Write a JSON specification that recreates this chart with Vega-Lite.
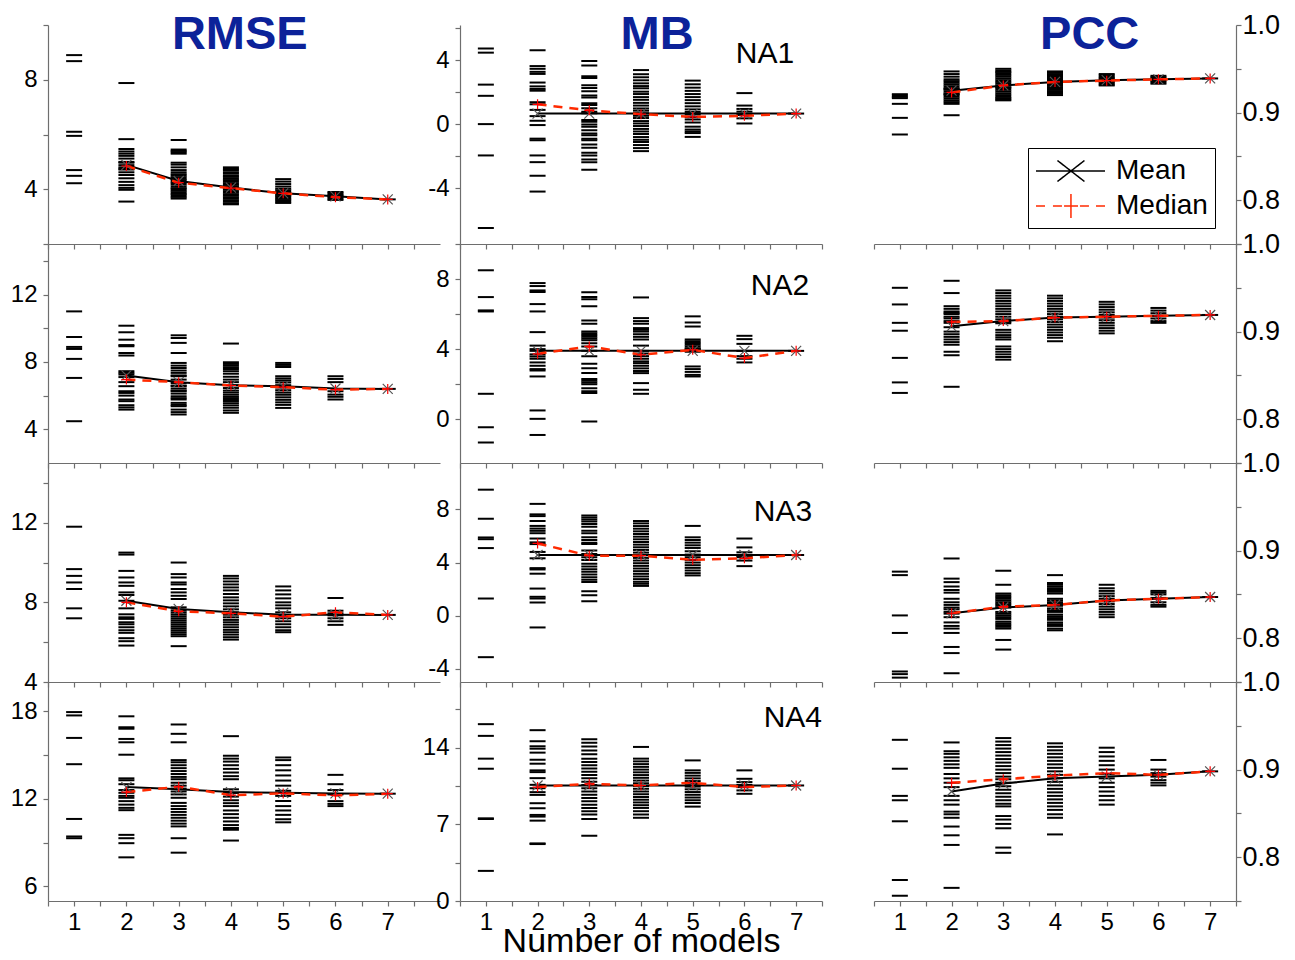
{
"$schema":"https://vega.github.io/schema/vega-lite/v6.json",
"background":"white",
"padding":{"left":10,"top":10,"right":5,"bottom":5},
"config":{"view":{"stroke":null},"font":"Liberation Sans","tick":{"opacity":1},
"axis":{"domainColor":"#6e6e6e","tickColor":"#6e6e6e","domainWidth":1.2,"tickWidth":1.2,"tickSize":5,"labelFontSize":24,"labelFont":"Liberation Sans","labelColor":"black","grid":false,"labelFlush":false,"labelOverlap":false,"labelBound":false,"titleFont":"Liberation Sans","titleColor":"black"}},
"datasets":{
"t":[
{"p":"R1","x":1,"v":8.9},{"p":"R1","x":1,"v":8.68},{"p":"R1","x":1,"v":6.1},{"p":"R1","x":1,"v":5.95},{"p":"R1","x":1,"v":4.7},{"p":"R1","x":1,"v":4.49},{"p":"R1","x":1,"v":4.22},
{"p":"R1","x":2,"v":7.88},{"p":"R1","x":2,"v":5.83},{"p":"R1","x":2,"v":5.47},{"p":"R1","x":2,"v":5.38},{"p":"R1","x":2,"v":5.3},{"p":"R1","x":2,"v":5.22},{"p":"R1","x":2,"v":5.12},{"p":"R1","x":2,"v":5.0},{"p":"R1","x":2,"v":4.97},{"p":"R1","x":2,"v":4.88},{"p":"R1","x":2,"v":4.8},{"p":"R1","x":2,"v":4.75},{"p":"R1","x":2,"v":4.72},{"p":"R1","x":2,"v":4.62},{"p":"R1","x":2,"v":4.52},{"p":"R1","x":2,"v":4.4},{"p":"R1","x":2,"v":4.27},{"p":"R1","x":2,"v":4.15},{"p":"R1","x":2,"v":4.05},{"p":"R1","x":2,"v":3.98},{"p":"R1","x":2,"v":3.55},
{"p":"R1","x":3,"v":5.8},{"p":"R1","x":3,"v":5.45},{"p":"R1","x":3,"v":5.4},{"p":"R1","x":3,"v":5.35},{"p":"R1","x":3,"v":5.3},{"p":"R1","x":3,"v":4.97},{"p":"R1","x":3,"v":4.9},{"p":"R1","x":3,"v":4.8},{"p":"R1","x":3,"v":4.7},{"p":"R1","x":3,"v":4.62},{"p":"R1","x":3,"v":4.55},{"p":"R1","x":3,"v":4.5},{"p":"R1","x":3,"v":4.44},{"p":"R1","x":3,"v":4.38},{"p":"R1","x":3,"v":4.33},{"p":"R1","x":3,"v":4.27},{"p":"R1","x":3,"v":4.22},{"p":"R1","x":3,"v":4.17},{"p":"R1","x":3,"v":4.1},{"p":"R1","x":3,"v":4.04},{"p":"R1","x":3,"v":4.0},{"p":"R1","x":3,"v":3.94},{"p":"R1","x":3,"v":3.88},{"p":"R1","x":3,"v":3.83},{"p":"R1","x":3,"v":3.78},{"p":"R1","x":3,"v":3.72},{"p":"R1","x":3,"v":3.66},
{"p":"R1","x":4,"v":4.8},{"p":"R1","x":4,"v":4.74},{"p":"R1","x":4,"v":4.69},{"p":"R1","x":4,"v":4.62},{"p":"R1","x":4,"v":4.57},{"p":"R1","x":4,"v":4.5},{"p":"R1","x":4,"v":4.45},{"p":"R1","x":4,"v":4.38},{"p":"R1","x":4,"v":4.33},{"p":"R1","x":4,"v":4.27},{"p":"R1","x":4,"v":4.21},{"p":"R1","x":4,"v":4.16},{"p":"R1","x":4,"v":4.1},{"p":"R1","x":4,"v":4.05},{"p":"R1","x":4,"v":3.99},{"p":"R1","x":4,"v":3.93},{"p":"R1","x":4,"v":3.88},{"p":"R1","x":4,"v":3.82},{"p":"R1","x":4,"v":3.77},{"p":"R1","x":4,"v":3.71},{"p":"R1","x":4,"v":3.66},{"p":"R1","x":4,"v":3.6},{"p":"R1","x":4,"v":3.55},{"p":"R1","x":4,"v":3.49},{"p":"R1","x":4,"v":3.45},
{"p":"R1","x":5,"v":4.37},{"p":"R1","x":5,"v":4.28},{"p":"R1","x":5,"v":4.19},{"p":"R1","x":5,"v":4.1},{"p":"R1","x":5,"v":4.02},{"p":"R1","x":5,"v":3.96},{"p":"R1","x":5,"v":3.9},{"p":"R1","x":5,"v":3.85},{"p":"R1","x":5,"v":3.8},{"p":"R1","x":5,"v":3.75},{"p":"R1","x":5,"v":3.7},{"p":"R1","x":5,"v":3.65},{"p":"R1","x":5,"v":3.6},{"p":"R1","x":5,"v":3.55},{"p":"R1","x":5,"v":3.5},
{"p":"R1","x":6,"v":3.9},{"p":"R1","x":6,"v":3.85},{"p":"R1","x":6,"v":3.8},{"p":"R1","x":6,"v":3.76},{"p":"R1","x":6,"v":3.71},{"p":"R1","x":6,"v":3.66},{"p":"R1","x":6,"v":3.61},
{"p":"R1","x":7,"v":3.63},

{"p":"M1","x":1,"v":4.73},{"p":"M1","x":1,"v":4.47},{"p":"M1","x":1,"v":2.47},{"p":"M1","x":1,"v":1.77},{"p":"M1","x":1,"v":0.0},{"p":"M1","x":1,"v":-1.96},{"p":"M1","x":1,"v":-6.5},
{"p":"M1","x":2,"v":4.62},{"p":"M1","x":2,"v":3.63},{"p":"M1","x":2,"v":3.46},{"p":"M1","x":2,"v":3.27},{"p":"M1","x":2,"v":3.14},{"p":"M1","x":2,"v":2.6},{"p":"M1","x":2,"v":2.36},{"p":"M1","x":2,"v":2.2},{"p":"M1","x":2,"v":2.09},{"p":"M1","x":2,"v":1.37},{"p":"M1","x":2,"v":1.24},{"p":"M1","x":2,"v":0.89},{"p":"M1","x":2,"v":0.5},{"p":"M1","x":2,"v":0.21},{"p":"M1","x":2,"v":-0.06},{"p":"M1","x":2,"v":-0.91},{"p":"M1","x":2,"v":-1.01},{"p":"M1","x":2,"v":-1.96},{"p":"M1","x":2,"v":-2.38},{"p":"M1","x":2,"v":-3.23},{"p":"M1","x":2,"v":-4.22},
{"p":"M1","x":3,"v":3.95},{"p":"M1","x":3,"v":3.67},{"p":"M1","x":3,"v":3.0},{"p":"M1","x":3,"v":2.89},{"p":"M1","x":3,"v":2.43},{"p":"M1","x":3,"v":2.26},{"p":"M1","x":3,"v":2.05},{"p":"M1","x":3,"v":1.79},{"p":"M1","x":3,"v":1.67},{"p":"M1","x":3,"v":1.31},{"p":"M1","x":3,"v":1.2},{"p":"M1","x":3,"v":0.99},{"p":"M1","x":3,"v":0.78},{"p":"M1","x":3,"v":0.68},{"p":"M1","x":3,"v":0.25},{"p":"M1","x":3,"v":0.15},{"p":"M1","x":3,"v":-0.02},{"p":"M1","x":3,"v":-0.17},{"p":"M1","x":3,"v":-0.38},{"p":"M1","x":3,"v":-0.59},{"p":"M1","x":3,"v":-0.7},{"p":"M1","x":3,"v":-0.91},{"p":"M1","x":3,"v":-1.01},{"p":"M1","x":3,"v":-1.27},{"p":"M1","x":3,"v":-1.48},{"p":"M1","x":3,"v":-1.79},{"p":"M1","x":3,"v":-1.96},{"p":"M1","x":3,"v":-2.22},{"p":"M1","x":3,"v":-2.38},{"p":"M1","x":3,"v":-2.85},
{"p":"M1","x":4,"v":3.38},{"p":"M1","x":4,"v":3.12},{"p":"M1","x":4,"v":2.93},{"p":"M1","x":4,"v":2.74},{"p":"M1","x":4,"v":2.55},{"p":"M1","x":4,"v":2.38},{"p":"M1","x":4,"v":2.24},{"p":"M1","x":4,"v":2.03},{"p":"M1","x":4,"v":1.88},{"p":"M1","x":4,"v":1.69},{"p":"M1","x":4,"v":1.52},{"p":"M1","x":4,"v":1.33},{"p":"M1","x":4,"v":1.16},{"p":"M1","x":4,"v":0.98},{"p":"M1","x":4,"v":0.84},{"p":"M1","x":4,"v":0.68},{"p":"M1","x":4,"v":0.52},{"p":"M1","x":4,"v":0.38},{"p":"M1","x":4,"v":0.19},{"p":"M1","x":4,"v":0.04},{"p":"M1","x":4,"v":-0.12},{"p":"M1","x":4,"v":-0.3},{"p":"M1","x":4,"v":-0.46},{"p":"M1","x":4,"v":-0.62},{"p":"M1","x":4,"v":-0.81},{"p":"M1","x":4,"v":-0.98},{"p":"M1","x":4,"v":-1.12},{"p":"M1","x":4,"v":-1.31},{"p":"M1","x":4,"v":-1.5},{"p":"M1","x":4,"v":-1.69},
{"p":"M1","x":5,"v":2.72},{"p":"M1","x":5,"v":2.49},{"p":"M1","x":5,"v":2.28},{"p":"M1","x":5,"v":2.08},{"p":"M1","x":5,"v":1.88},{"p":"M1","x":5,"v":1.69},{"p":"M1","x":5,"v":1.5},{"p":"M1","x":5,"v":1.31},{"p":"M1","x":5,"v":1.11},{"p":"M1","x":5,"v":0.92},{"p":"M1","x":5,"v":0.76},{"p":"M1","x":5,"v":0.6},{"p":"M1","x":5,"v":0.44},{"p":"M1","x":5,"v":0.29},{"p":"M1","x":5,"v":0.1},{"p":"M1","x":5,"v":-0.16},{"p":"M1","x":5,"v":-0.34},{"p":"M1","x":5,"v":-0.46},{"p":"M1","x":5,"v":-0.56},{"p":"M1","x":5,"v":-0.8},
{"p":"M1","x":6,"v":1.94},{"p":"M1","x":6,"v":1.16},{"p":"M1","x":6,"v":0.95},{"p":"M1","x":6,"v":0.78},{"p":"M1","x":6,"v":0.57},{"p":"M1","x":6,"v":0.36},{"p":"M1","x":6,"v":0.04},
{"p":"M1","x":7,"v":0.66},

{"p":"P1","x":1,"v":0.921},{"p":"P1","x":1,"v":0.9195},{"p":"P1","x":1,"v":0.918},{"p":"P1","x":1,"v":0.9165},{"p":"P1","x":1,"v":0.91},{"p":"P1","x":1,"v":0.894},{"p":"P1","x":1,"v":0.875},
{"p":"P1","x":2,"v":0.947},{"p":"P1","x":2,"v":0.944},{"p":"P1","x":2,"v":0.941},{"p":"P1","x":2,"v":0.938},{"p":"P1","x":2,"v":0.936},{"p":"P1","x":2,"v":0.934},{"p":"P1","x":2,"v":0.932},{"p":"P1","x":2,"v":0.93},{"p":"P1","x":2,"v":0.928},{"p":"P1","x":2,"v":0.927},{"p":"P1","x":2,"v":0.926},{"p":"P1","x":2,"v":0.924},{"p":"P1","x":2,"v":0.922},{"p":"P1","x":2,"v":0.921},{"p":"P1","x":2,"v":0.92},{"p":"P1","x":2,"v":0.918},{"p":"P1","x":2,"v":0.916},{"p":"P1","x":2,"v":0.914},{"p":"P1","x":2,"v":0.912},{"p":"P1","x":2,"v":0.91},{"p":"P1","x":2,"v":0.897},
{"p":"P1","x":3,"v":0.95},{"p":"P1","x":3,"v":0.948},{"p":"P1","x":3,"v":0.9465},{"p":"P1","x":3,"v":0.945},{"p":"P1","x":3,"v":0.943},{"p":"P1","x":3,"v":0.941},{"p":"P1","x":3,"v":0.939},{"p":"P1","x":3,"v":0.937},{"p":"P1","x":3,"v":0.935},{"p":"P1","x":3,"v":0.933},{"p":"P1","x":3,"v":0.931},{"p":"P1","x":3,"v":0.929},{"p":"P1","x":3,"v":0.928},{"p":"P1","x":3,"v":0.926},{"p":"P1","x":3,"v":0.924},{"p":"P1","x":3,"v":0.922},{"p":"P1","x":3,"v":0.92},{"p":"P1","x":3,"v":0.918},{"p":"P1","x":3,"v":0.9165},{"p":"P1","x":3,"v":0.915},{"p":"P1","x":3,"v":0.914},
{"p":"P1","x":4,"v":0.947},{"p":"P1","x":4,"v":0.9455},{"p":"P1","x":4,"v":0.944},{"p":"P1","x":4,"v":0.9425},{"p":"P1","x":4,"v":0.941},{"p":"P1","x":4,"v":0.9395},{"p":"P1","x":4,"v":0.938},{"p":"P1","x":4,"v":0.9365},{"p":"P1","x":4,"v":0.935},{"p":"P1","x":4,"v":0.9335},{"p":"P1","x":4,"v":0.932},{"p":"P1","x":4,"v":0.9305},{"p":"P1","x":4,"v":0.929},{"p":"P1","x":4,"v":0.9275},{"p":"P1","x":4,"v":0.926},{"p":"P1","x":4,"v":0.9245},{"p":"P1","x":4,"v":0.923},{"p":"P1","x":4,"v":0.9215},{"p":"P1","x":4,"v":0.92},
{"p":"P1","x":5,"v":0.944},{"p":"P1","x":5,"v":0.9425},{"p":"P1","x":5,"v":0.941},{"p":"P1","x":5,"v":0.9395},{"p":"P1","x":5,"v":0.938},{"p":"P1","x":5,"v":0.9365},{"p":"P1","x":5,"v":0.935},{"p":"P1","x":5,"v":0.9335},{"p":"P1","x":5,"v":0.932},{"p":"P1","x":5,"v":0.931},
{"p":"P1","x":6,"v":0.942},{"p":"P1","x":6,"v":0.9405},{"p":"P1","x":6,"v":0.939},{"p":"P1","x":6,"v":0.9375},{"p":"P1","x":6,"v":0.936},{"p":"P1","x":6,"v":0.9345},{"p":"P1","x":6,"v":0.933},
{"p":"P1","x":7,"v":0.939},

{"p":"R2","x":1,"v":11.0},{"p":"R2","x":1,"v":9.48},{"p":"R2","x":1,"v":8.89},{"p":"R2","x":1,"v":8.77},{"p":"R2","x":1,"v":8.18},{"p":"R2","x":1,"v":7.05},{"p":"R2","x":1,"v":4.48},
{"p":"R2","x":2,"v":10.15},{"p":"R2","x":2,"v":9.76},{"p":"R2","x":2,"v":9.32},{"p":"R2","x":2,"v":9.0},{"p":"R2","x":2,"v":8.93},{"p":"R2","x":2,"v":8.53},{"p":"R2","x":2,"v":8.38},{"p":"R2","x":2,"v":7.45},{"p":"R2","x":2,"v":7.35},{"p":"R2","x":2,"v":7.25},{"p":"R2","x":2,"v":7.1},{"p":"R2","x":2,"v":6.8},{"p":"R2","x":2,"v":6.56},{"p":"R2","x":2,"v":6.26},{"p":"R2","x":2,"v":6.16},{"p":"R2","x":2,"v":6.0},{"p":"R2","x":2,"v":5.77},{"p":"R2","x":2,"v":5.67},{"p":"R2","x":2,"v":5.43},{"p":"R2","x":2,"v":5.3},{"p":"R2","x":2,"v":5.17},
{"p":"R2","x":3,"v":9.58},{"p":"R2","x":3,"v":9.42},{"p":"R2","x":3,"v":9.13},{"p":"R2","x":3,"v":8.53},{"p":"R2","x":3,"v":7.94},{"p":"R2","x":3,"v":7.78},{"p":"R2","x":3,"v":7.64},{"p":"R2","x":3,"v":7.49},{"p":"R2","x":3,"v":7.35},{"p":"R2","x":3,"v":7.2},{"p":"R2","x":3,"v":7.15},{"p":"R2","x":3,"v":6.95},{"p":"R2","x":3,"v":6.75},{"p":"R2","x":3,"v":6.6},{"p":"R2","x":3,"v":6.56},{"p":"R2","x":3,"v":6.42},{"p":"R2","x":3,"v":6.3},{"p":"R2","x":3,"v":6.26},{"p":"R2","x":3,"v":6.12},{"p":"R2","x":3,"v":5.96},{"p":"R2","x":3,"v":5.85},{"p":"R2","x":3,"v":5.77},{"p":"R2","x":3,"v":5.57},{"p":"R2","x":3,"v":5.45},{"p":"R2","x":3,"v":5.37},{"p":"R2","x":3,"v":5.17},{"p":"R2","x":3,"v":5.02},{"p":"R2","x":3,"v":4.88},
{"p":"R2","x":4,"v":9.09},{"p":"R2","x":4,"v":7.98},{"p":"R2","x":4,"v":7.88},{"p":"R2","x":4,"v":7.78},{"p":"R2","x":4,"v":7.68},{"p":"R2","x":4,"v":7.58},{"p":"R2","x":4,"v":7.45},{"p":"R2","x":4,"v":7.3},{"p":"R2","x":4,"v":7.12},{"p":"R2","x":4,"v":6.95},{"p":"R2","x":4,"v":6.8},{"p":"R2","x":4,"v":6.62},{"p":"R2","x":4,"v":6.45},{"p":"R2","x":4,"v":6.3},{"p":"R2","x":4,"v":6.18},{"p":"R2","x":4,"v":6.05},{"p":"R2","x":4,"v":5.92},{"p":"R2","x":4,"v":5.8},{"p":"R2","x":4,"v":5.68},{"p":"R2","x":4,"v":5.55},{"p":"R2","x":4,"v":5.42},{"p":"R2","x":4,"v":5.28},{"p":"R2","x":4,"v":5.12},{"p":"R2","x":4,"v":4.98},
{"p":"R2","x":5,"v":7.94},{"p":"R2","x":5,"v":7.82},{"p":"R2","x":5,"v":7.7},{"p":"R2","x":5,"v":7.15},{"p":"R2","x":5,"v":7.02},{"p":"R2","x":5,"v":6.9},{"p":"R2","x":5,"v":6.78},{"p":"R2","x":5,"v":6.62},{"p":"R2","x":5,"v":6.48},{"p":"R2","x":5,"v":6.32},{"p":"R2","x":5,"v":6.18},{"p":"R2","x":5,"v":6.05},{"p":"R2","x":5,"v":5.9},{"p":"R2","x":5,"v":5.75},{"p":"R2","x":5,"v":5.6},{"p":"R2","x":5,"v":5.45},{"p":"R2","x":5,"v":5.27},
{"p":"R2","x":6,"v":7.15},{"p":"R2","x":6,"v":6.99},{"p":"R2","x":6,"v":6.8},{"p":"R2","x":6,"v":6.26},{"p":"R2","x":6,"v":6.06},{"p":"R2","x":6,"v":5.93},{"p":"R2","x":6,"v":5.77},
{"p":"R2","x":7,"v":6.4},

{"p":"M2","x":1,"v":8.5},{"p":"M2","x":1,"v":6.97},{"p":"M2","x":1,"v":6.21},{"p":"M2","x":1,"v":6.15},{"p":"M2","x":1,"v":1.45},{"p":"M2","x":1,"v":-0.46},{"p":"M2","x":1,"v":-1.33},
{"p":"M2","x":2,"v":7.77},{"p":"M2","x":2,"v":7.6},{"p":"M2","x":2,"v":7.35},{"p":"M2","x":2,"v":7.26},{"p":"M2","x":2,"v":6.57},{"p":"M2","x":2,"v":6.15},{"p":"M2","x":2,"v":4.97},{"p":"M2","x":2,"v":4.2},{"p":"M2","x":2,"v":4.0},{"p":"M2","x":2,"v":3.9},{"p":"M2","x":2,"v":3.7},{"p":"M2","x":2,"v":3.58},{"p":"M2","x":2,"v":3.45},{"p":"M2","x":2,"v":3.24},{"p":"M2","x":2,"v":3.05},{"p":"M2","x":2,"v":2.86},{"p":"M2","x":2,"v":2.78},{"p":"M2","x":2,"v":2.44},{"p":"M2","x":2,"v":0.5},{"p":"M2","x":2,"v":0.02},{"p":"M2","x":2,"v":-0.9},
{"p":"M2","x":3,"v":7.24},{"p":"M2","x":3,"v":6.97},{"p":"M2","x":3,"v":6.85},{"p":"M2","x":3,"v":6.44},{"p":"M2","x":3,"v":5.64},{"p":"M2","x":3,"v":5.45},{"p":"M2","x":3,"v":5.0},{"p":"M2","x":3,"v":4.9},{"p":"M2","x":3,"v":4.8},{"p":"M2","x":3,"v":4.7},{"p":"M2","x":3,"v":4.6},{"p":"M2","x":3,"v":4.5},{"p":"M2","x":3,"v":4.34},{"p":"M2","x":3,"v":4.15},{"p":"M2","x":3,"v":3.9},{"p":"M2","x":3,"v":3.6},{"p":"M2","x":3,"v":3.16},{"p":"M2","x":3,"v":2.91},{"p":"M2","x":3,"v":2.63},{"p":"M2","x":3,"v":2.29},{"p":"M2","x":3,"v":2.2},{"p":"M2","x":3,"v":2.1},{"p":"M2","x":3,"v":2.0},{"p":"M2","x":3,"v":1.77},{"p":"M2","x":3,"v":1.6},{"p":"M2","x":3,"v":1.49},{"p":"M2","x":3,"v":-0.13},
{"p":"M2","x":4,"v":6.95},{"p":"M2","x":4,"v":5.77},{"p":"M2","x":4,"v":5.6},{"p":"M2","x":4,"v":5.45},{"p":"M2","x":4,"v":5.2},{"p":"M2","x":4,"v":5.1},{"p":"M2","x":4,"v":5.0},{"p":"M2","x":4,"v":4.85},{"p":"M2","x":4,"v":4.7},{"p":"M2","x":4,"v":4.55},{"p":"M2","x":4,"v":4.2},{"p":"M2","x":4,"v":3.9},{"p":"M2","x":4,"v":3.75},{"p":"M2","x":4,"v":3.6},{"p":"M2","x":4,"v":3.45},{"p":"M2","x":4,"v":3.3},{"p":"M2","x":4,"v":3.2},{"p":"M2","x":4,"v":3.05},{"p":"M2","x":4,"v":2.9},{"p":"M2","x":4,"v":2.75},{"p":"M2","x":4,"v":2.63},{"p":"M2","x":4,"v":2.06},{"p":"M2","x":4,"v":1.68},{"p":"M2","x":4,"v":1.45},
{"p":"M2","x":5,"v":5.87},{"p":"M2","x":5,"v":5.52},{"p":"M2","x":5,"v":5.29},{"p":"M2","x":5,"v":4.55},{"p":"M2","x":5,"v":4.45},{"p":"M2","x":5,"v":4.35},{"p":"M2","x":5,"v":4.25},{"p":"M2","x":5,"v":4.15},{"p":"M2","x":5,"v":4.05},{"p":"M2","x":5,"v":4.0},{"p":"M2","x":5,"v":3.96},{"p":"M2","x":5,"v":3.85},{"p":"M2","x":5,"v":3.01},{"p":"M2","x":5,"v":2.86},{"p":"M2","x":5,"v":2.7},{"p":"M2","x":5,"v":2.53},{"p":"M2","x":5,"v":2.44},
{"p":"M2","x":6,"v":4.76},{"p":"M2","x":6,"v":4.57},{"p":"M2","x":6,"v":4.3},{"p":"M2","x":6,"v":3.9},{"p":"M2","x":6,"v":3.6},{"p":"M2","x":6,"v":3.45},{"p":"M2","x":6,"v":3.24},
{"p":"M2","x":7,"v":3.9},

{"p":"P2","x":1,"v":0.95},{"p":"P2","x":1,"v":0.931},{"p":"P2","x":1,"v":0.91},{"p":"P2","x":1,"v":0.901},{"p":"P2","x":1,"v":0.87},{"p":"P2","x":1,"v":0.842},{"p":"P2","x":1,"v":0.83},
{"p":"P2","x":2,"v":0.958},{"p":"P2","x":2,"v":0.944},{"p":"P2","x":2,"v":0.929},{"p":"P2","x":2,"v":0.926},{"p":"P2","x":2,"v":0.923},{"p":"P2","x":2,"v":0.9215},{"p":"P2","x":2,"v":0.92},{"p":"P2","x":2,"v":0.917},{"p":"P2","x":2,"v":0.915},{"p":"P2","x":2,"v":0.912},{"p":"P2","x":2,"v":0.91},{"p":"P2","x":2,"v":0.905},{"p":"P2","x":2,"v":0.9},{"p":"P2","x":2,"v":0.897},{"p":"P2","x":2,"v":0.894},{"p":"P2","x":2,"v":0.891},{"p":"P2","x":2,"v":0.888},{"p":"P2","x":2,"v":0.885},{"p":"P2","x":2,"v":0.877},{"p":"P2","x":2,"v":0.873},{"p":"P2","x":2,"v":0.837},
{"p":"P2","x":3,"v":0.947},{"p":"P2","x":3,"v":0.944},{"p":"P2","x":3,"v":0.941},{"p":"P2","x":3,"v":0.938},{"p":"P2","x":3,"v":0.935},{"p":"P2","x":3,"v":0.932},{"p":"P2","x":3,"v":0.929},{"p":"P2","x":3,"v":0.926},{"p":"P2","x":3,"v":0.923},{"p":"P2","x":3,"v":0.92},{"p":"P2","x":3,"v":0.917},{"p":"P2","x":3,"v":0.914},{"p":"P2","x":3,"v":0.911},{"p":"P2","x":3,"v":0.9095},{"p":"P2","x":3,"v":0.902},{"p":"P2","x":3,"v":0.899},{"p":"P2","x":3,"v":0.896},{"p":"P2","x":3,"v":0.8935},{"p":"P2","x":3,"v":0.891},{"p":"P2","x":3,"v":0.883},{"p":"P2","x":3,"v":0.88},{"p":"P2","x":3,"v":0.877},{"p":"P2","x":3,"v":0.874},{"p":"P2","x":3,"v":0.871},{"p":"P2","x":3,"v":0.868},
{"p":"P2","x":4,"v":0.941},{"p":"P2","x":4,"v":0.938},{"p":"P2","x":4,"v":0.935},{"p":"P2","x":4,"v":0.932},{"p":"P2","x":4,"v":0.929},{"p":"P2","x":4,"v":0.926},{"p":"P2","x":4,"v":0.923},{"p":"P2","x":4,"v":0.92},{"p":"P2","x":4,"v":0.917},{"p":"P2","x":4,"v":0.914},{"p":"P2","x":4,"v":0.911},{"p":"P2","x":4,"v":0.908},{"p":"P2","x":4,"v":0.905},{"p":"P2","x":4,"v":0.902},{"p":"P2","x":4,"v":0.899},{"p":"P2","x":4,"v":0.896},{"p":"P2","x":4,"v":0.893},{"p":"P2","x":4,"v":0.889},
{"p":"P2","x":5,"v":0.934},{"p":"P2","x":5,"v":0.931},{"p":"P2","x":5,"v":0.928},{"p":"P2","x":5,"v":0.925},{"p":"P2","x":5,"v":0.922},{"p":"P2","x":5,"v":0.919},{"p":"P2","x":5,"v":0.916},{"p":"P2","x":5,"v":0.913},{"p":"P2","x":5,"v":0.91},{"p":"P2","x":5,"v":0.907},{"p":"P2","x":5,"v":0.904},{"p":"P2","x":5,"v":0.901},{"p":"P2","x":5,"v":0.898},
{"p":"P2","x":6,"v":0.927},{"p":"P2","x":6,"v":0.924},{"p":"P2","x":6,"v":0.921},{"p":"P2","x":6,"v":0.918},{"p":"P2","x":6,"v":0.915},{"p":"P2","x":6,"v":0.912},{"p":"P2","x":6,"v":0.91},
{"p":"P2","x":7,"v":0.919},

{"p":"R3","x":1,"v":11.8},{"p":"R3","x":1,"v":9.67},{"p":"R3","x":1,"v":9.33},{"p":"R3","x":1,"v":9.0},{"p":"R3","x":1,"v":8.67},{"p":"R3","x":1,"v":7.7},{"p":"R3","x":1,"v":7.2},
{"p":"R3","x":2,"v":10.5},{"p":"R3","x":2,"v":10.4},{"p":"R3","x":2,"v":9.58},{"p":"R3","x":2,"v":9.25},{"p":"R3","x":2,"v":9.0},{"p":"R3","x":2,"v":8.83},{"p":"R3","x":2,"v":8.5},{"p":"R3","x":2,"v":8.37},{"p":"R3","x":2,"v":8.08},{"p":"R3","x":2,"v":7.7},{"p":"R3","x":2,"v":7.4},{"p":"R3","x":2,"v":7.25},{"p":"R3","x":2,"v":7.17},{"p":"R3","x":2,"v":7.0},{"p":"R3","x":2,"v":6.9},{"p":"R3","x":2,"v":6.75},{"p":"R3","x":2,"v":6.6},{"p":"R3","x":2,"v":6.47},{"p":"R3","x":2,"v":6.2},{"p":"R3","x":2,"v":6.05},{"p":"R3","x":2,"v":5.83},
{"p":"R3","x":3,"v":10.0},{"p":"R3","x":3,"v":9.42},{"p":"R3","x":3,"v":9.25},{"p":"R3","x":3,"v":9.0},{"p":"R3","x":3,"v":8.9},{"p":"R3","x":3,"v":8.67},{"p":"R3","x":3,"v":8.5},{"p":"R3","x":3,"v":8.33},{"p":"R3","x":3,"v":8.17},{"p":"R3","x":3,"v":7.75},{"p":"R3","x":3,"v":7.6},{"p":"R3","x":3,"v":7.5},{"p":"R3","x":3,"v":7.4},{"p":"R3","x":3,"v":7.3},{"p":"R3","x":3,"v":7.2},{"p":"R3","x":3,"v":7.1},{"p":"R3","x":3,"v":7.0},{"p":"R3","x":3,"v":6.9},{"p":"R3","x":3,"v":6.8},{"p":"R3","x":3,"v":6.7},{"p":"R3","x":3,"v":6.6},{"p":"R3","x":3,"v":6.5},{"p":"R3","x":3,"v":6.4},{"p":"R3","x":3,"v":6.3},{"p":"R3","x":3,"v":5.8},
{"p":"R3","x":4,"v":9.33},{"p":"R3","x":4,"v":9.2},{"p":"R3","x":4,"v":9.05},{"p":"R3","x":4,"v":8.9},{"p":"R3","x":4,"v":8.75},{"p":"R3","x":4,"v":8.6},{"p":"R3","x":4,"v":8.42},{"p":"R3","x":4,"v":8.25},{"p":"R3","x":4,"v":8.1},{"p":"R3","x":4,"v":7.95},{"p":"R3","x":4,"v":7.8},{"p":"R3","x":4,"v":7.65},{"p":"R3","x":4,"v":7.5},{"p":"R3","x":4,"v":7.38},{"p":"R3","x":4,"v":7.25},{"p":"R3","x":4,"v":7.12},{"p":"R3","x":4,"v":7.0},{"p":"R3","x":4,"v":6.88},{"p":"R3","x":4,"v":6.75},{"p":"R3","x":4,"v":6.62},{"p":"R3","x":4,"v":6.5},{"p":"R3","x":4,"v":6.38},{"p":"R3","x":4,"v":6.25},{"p":"R3","x":4,"v":6.13},
{"p":"R3","x":5,"v":8.8},{"p":"R3","x":5,"v":8.6},{"p":"R3","x":5,"v":8.4},{"p":"R3","x":5,"v":8.2},{"p":"R3","x":5,"v":8.0},{"p":"R3","x":5,"v":7.85},{"p":"R3","x":5,"v":7.7},{"p":"R3","x":5,"v":7.5},{"p":"R3","x":5,"v":7.35},{"p":"R3","x":5,"v":7.2},{"p":"R3","x":5,"v":7.05},{"p":"R3","x":5,"v":6.9},{"p":"R3","x":5,"v":6.75},{"p":"R3","x":5,"v":6.6},{"p":"R3","x":5,"v":6.5},
{"p":"R3","x":6,"v":8.22},{"p":"R3","x":6,"v":7.58},{"p":"R3","x":6,"v":7.45},{"p":"R3","x":6,"v":7.35},{"p":"R3","x":6,"v":7.2},{"p":"R3","x":6,"v":7.05},{"p":"R3","x":6,"v":6.87},
{"p":"R3","x":7,"v":7.37},

{"p":"M3","x":1,"v":9.49},{"p":"M3","x":1,"v":7.3},{"p":"M3","x":1,"v":5.89},{"p":"M3","x":1,"v":5.76},{"p":"M3","x":1,"v":5.09},{"p":"M3","x":1,"v":1.29},{"p":"M3","x":1,"v":-3.13},
{"p":"M3","x":2,"v":8.42},{"p":"M3","x":2,"v":7.63},{"p":"M3","x":2,"v":7.5},{"p":"M3","x":2,"v":7.13},{"p":"M3","x":2,"v":6.76},{"p":"M3","x":2,"v":6.56},{"p":"M3","x":2,"v":6.39},{"p":"M3","x":2,"v":6.21},{"p":"M3","x":2,"v":5.81},{"p":"M3","x":2,"v":5.52},{"p":"M3","x":2,"v":5.39},{"p":"M3","x":2,"v":4.8},{"p":"M3","x":2,"v":4.32},{"p":"M3","x":2,"v":3.58},{"p":"M3","x":2,"v":3.48},{"p":"M3","x":2,"v":3.16},{"p":"M3","x":2,"v":2.04},{"p":"M3","x":2,"v":1.42},{"p":"M3","x":2,"v":1.29},{"p":"M3","x":2,"v":0.99},{"p":"M3","x":2,"v":-0.89},
{"p":"M3","x":3,"v":7.55},{"p":"M3","x":3,"v":7.4},{"p":"M3","x":3,"v":7.25},{"p":"M3","x":3,"v":7.1},{"p":"M3","x":3,"v":6.9},{"p":"M3","x":3,"v":6.7},{"p":"M3","x":3,"v":6.4},{"p":"M3","x":3,"v":6.2},{"p":"M3","x":3,"v":5.9},{"p":"M3","x":3,"v":5.7},{"p":"M3","x":3,"v":5.5},{"p":"M3","x":3,"v":5.39},{"p":"M3","x":3,"v":4.9},{"p":"M3","x":3,"v":4.65},{"p":"M3","x":3,"v":4.4},{"p":"M3","x":3,"v":4.2},{"p":"M3","x":3,"v":3.9},{"p":"M3","x":3,"v":3.7},{"p":"M3","x":3,"v":3.5},{"p":"M3","x":3,"v":3.3},{"p":"M3","x":3,"v":3.1},{"p":"M3","x":3,"v":2.9},{"p":"M3","x":3,"v":2.7},{"p":"M3","x":3,"v":2.53},{"p":"M3","x":3,"v":1.84},{"p":"M3","x":3,"v":1.54},{"p":"M3","x":3,"v":1.09},
{"p":"M3","x":4,"v":7.13},{"p":"M3","x":4,"v":6.95},{"p":"M3","x":4,"v":6.75},{"p":"M3","x":4,"v":6.55},{"p":"M3","x":4,"v":6.35},{"p":"M3","x":4,"v":6.15},{"p":"M3","x":4,"v":5.95},{"p":"M3","x":4,"v":5.75},{"p":"M3","x":4,"v":5.55},{"p":"M3","x":4,"v":5.35},{"p":"M3","x":4,"v":5.15},{"p":"M3","x":4,"v":4.95},{"p":"M3","x":4,"v":4.75},{"p":"M3","x":4,"v":4.55},{"p":"M3","x":4,"v":4.35},{"p":"M3","x":4,"v":4.15},{"p":"M3","x":4,"v":3.95},{"p":"M3","x":4,"v":3.75},{"p":"M3","x":4,"v":3.55},{"p":"M3","x":4,"v":3.35},{"p":"M3","x":4,"v":3.15},{"p":"M3","x":4,"v":2.95},{"p":"M3","x":4,"v":2.75},{"p":"M3","x":4,"v":2.55},{"p":"M3","x":4,"v":2.4},{"p":"M3","x":4,"v":2.24},
{"p":"M3","x":5,"v":6.76},{"p":"M3","x":5,"v":5.9},{"p":"M3","x":5,"v":5.7},{"p":"M3","x":5,"v":5.5},{"p":"M3","x":5,"v":5.3},{"p":"M3","x":5,"v":5.1},{"p":"M3","x":5,"v":4.85},{"p":"M3","x":5,"v":4.6},{"p":"M3","x":5,"v":4.4},{"p":"M3","x":5,"v":4.2},{"p":"M3","x":5,"v":4.0},{"p":"M3","x":5,"v":3.8},{"p":"M3","x":5,"v":3.6},{"p":"M3","x":5,"v":3.4},{"p":"M3","x":5,"v":3.2},{"p":"M3","x":5,"v":3.03},
{"p":"M3","x":6,"v":5.81},{"p":"M3","x":6,"v":5.14},{"p":"M3","x":6,"v":4.77},{"p":"M3","x":6,"v":4.5},{"p":"M3","x":6,"v":4.4},{"p":"M3","x":6,"v":4.15},{"p":"M3","x":6,"v":3.73},
{"p":"M3","x":7,"v":4.57},

{"p":"P3","x":1,"v":0.876},{"p":"P3","x":1,"v":0.872},{"p":"P3","x":1,"v":0.826},{"p":"P3","x":1,"v":0.806},{"p":"P3","x":1,"v":0.762},{"p":"P3","x":1,"v":0.759},{"p":"P3","x":1,"v":0.755},
{"p":"P3","x":2,"v":0.891},{"p":"P3","x":2,"v":0.868},{"p":"P3","x":2,"v":0.864},{"p":"P3","x":2,"v":0.859},{"p":"P3","x":2,"v":0.855},{"p":"P3","x":2,"v":0.852},{"p":"P3","x":2,"v":0.845},{"p":"P3","x":2,"v":0.841},{"p":"P3","x":2,"v":0.838},{"p":"P3","x":2,"v":0.835},{"p":"P3","x":2,"v":0.833},{"p":"P3","x":2,"v":0.83},{"p":"P3","x":2,"v":0.828},{"p":"P3","x":2,"v":0.824},{"p":"P3","x":2,"v":0.818},{"p":"P3","x":2,"v":0.814},{"p":"P3","x":2,"v":0.811},{"p":"P3","x":2,"v":0.806},{"p":"P3","x":2,"v":0.79},{"p":"P3","x":2,"v":0.783},{"p":"P3","x":2,"v":0.76},
{"p":"P3","x":3,"v":0.877},{"p":"P3","x":3,"v":0.861},{"p":"P3","x":3,"v":0.851},{"p":"P3","x":3,"v":0.849},{"p":"P3","x":3,"v":0.847},{"p":"P3","x":3,"v":0.845},{"p":"P3","x":3,"v":0.843},{"p":"P3","x":3,"v":0.841},{"p":"P3","x":3,"v":0.839},{"p":"P3","x":3,"v":0.837},{"p":"P3","x":3,"v":0.835},{"p":"P3","x":3,"v":0.83},{"p":"P3","x":3,"v":0.828},{"p":"P3","x":3,"v":0.826},{"p":"P3","x":3,"v":0.824},{"p":"P3","x":3,"v":0.822},{"p":"P3","x":3,"v":0.819},{"p":"P3","x":3,"v":0.817},{"p":"P3","x":3,"v":0.815},{"p":"P3","x":3,"v":0.813},{"p":"P3","x":3,"v":0.811},{"p":"P3","x":3,"v":0.798},{"p":"P3","x":3,"v":0.787},
{"p":"P3","x":4,"v":0.872},{"p":"P3","x":4,"v":0.863},{"p":"P3","x":4,"v":0.861},{"p":"P3","x":4,"v":0.859},{"p":"P3","x":4,"v":0.857},{"p":"P3","x":4,"v":0.855},{"p":"P3","x":4,"v":0.853},{"p":"P3","x":4,"v":0.851},{"p":"P3","x":4,"v":0.845},{"p":"P3","x":4,"v":0.843},{"p":"P3","x":4,"v":0.841},{"p":"P3","x":4,"v":0.839},{"p":"P3","x":4,"v":0.837},{"p":"P3","x":4,"v":0.834},{"p":"P3","x":4,"v":0.832},{"p":"P3","x":4,"v":0.83},{"p":"P3","x":4,"v":0.827},{"p":"P3","x":4,"v":0.825},{"p":"P3","x":4,"v":0.823},{"p":"P3","x":4,"v":0.821},{"p":"P3","x":4,"v":0.818},{"p":"P3","x":4,"v":0.816},{"p":"P3","x":4,"v":0.814},{"p":"P3","x":4,"v":0.811},{"p":"P3","x":4,"v":0.809},
{"p":"P3","x":5,"v":0.861},{"p":"P3","x":5,"v":0.857},{"p":"P3","x":5,"v":0.854},{"p":"P3","x":5,"v":0.851},{"p":"P3","x":5,"v":0.848},{"p":"P3","x":5,"v":0.845},{"p":"P3","x":5,"v":0.842},{"p":"P3","x":5,"v":0.839},{"p":"P3","x":5,"v":0.836},{"p":"P3","x":5,"v":0.833},{"p":"P3","x":5,"v":0.83},{"p":"P3","x":5,"v":0.827},{"p":"P3","x":5,"v":0.824},
{"p":"P3","x":6,"v":0.854},{"p":"P3","x":6,"v":0.852},{"p":"P3","x":6,"v":0.85},{"p":"P3","x":6,"v":0.846},{"p":"P3","x":6,"v":0.841},{"p":"P3","x":6,"v":0.838},{"p":"P3","x":6,"v":0.836},
{"p":"P3","x":7,"v":0.847},

{"p":"R4","x":1,"v":17.94},{"p":"R4","x":1,"v":17.71},{"p":"R4","x":1,"v":16.17},{"p":"R4","x":1,"v":14.37},{"p":"R4","x":1,"v":10.62},{"p":"R4","x":1,"v":9.42},{"p":"R4","x":1,"v":9.3},
{"p":"R4","x":2,"v":17.65},{"p":"R4","x":2,"v":16.9},{"p":"R4","x":2,"v":16.8},{"p":"R4","x":2,"v":16.1},{"p":"R4","x":2,"v":15.87},{"p":"R4","x":2,"v":15.02},{"p":"R4","x":2,"v":13.4},{"p":"R4","x":2,"v":13.27},{"p":"R4","x":2,"v":13.0},{"p":"R4","x":2,"v":12.6},{"p":"R4","x":2,"v":12.41},{"p":"R4","x":2,"v":12.2},{"p":"R4","x":2,"v":12.07},{"p":"R4","x":2,"v":11.84},{"p":"R4","x":2,"v":11.6},{"p":"R4","x":2,"v":11.38},{"p":"R4","x":2,"v":11.22},{"p":"R4","x":2,"v":9.53},{"p":"R4","x":2,"v":9.3},{"p":"R4","x":2,"v":8.96},{"p":"R4","x":2,"v":7.99},
{"p":"R4","x":3,"v":17.09},{"p":"R4","x":3,"v":16.45},{"p":"R4","x":3,"v":15.87},{"p":"R4","x":3,"v":14.65},{"p":"R4","x":3,"v":14.5},{"p":"R4","x":3,"v":14.3},{"p":"R4","x":3,"v":14.1},{"p":"R4","x":3,"v":13.9},{"p":"R4","x":3,"v":13.7},{"p":"R4","x":3,"v":13.5},{"p":"R4","x":3,"v":13.34},{"p":"R4","x":3,"v":13.1},{"p":"R4","x":3,"v":12.9},{"p":"R4","x":3,"v":12.7},{"p":"R4","x":3,"v":12.5},{"p":"R4","x":3,"v":12.3},{"p":"R4","x":3,"v":12.07},{"p":"R4","x":3,"v":11.72},{"p":"R4","x":3,"v":11.5},{"p":"R4","x":3,"v":11.3},{"p":"R4","x":3,"v":11.1},{"p":"R4","x":3,"v":10.9},{"p":"R4","x":3,"v":10.7},{"p":"R4","x":3,"v":10.5},{"p":"R4","x":3,"v":10.3},{"p":"R4","x":3,"v":10.11},{"p":"R4","x":3,"v":9.3},{"p":"R4","x":3,"v":8.31},
{"p":"R4","x":4,"v":16.29},{"p":"R4","x":4,"v":14.95},{"p":"R4","x":4,"v":14.75},{"p":"R4","x":4,"v":14.55},{"p":"R4","x":4,"v":14.3},{"p":"R4","x":4,"v":14.05},{"p":"R4","x":4,"v":13.8},{"p":"R4","x":4,"v":13.55},{"p":"R4","x":4,"v":13.34},{"p":"R4","x":4,"v":12.65},{"p":"R4","x":4,"v":12.4},{"p":"R4","x":4,"v":12.15},{"p":"R4","x":4,"v":11.9},{"p":"R4","x":4,"v":11.7},{"p":"R4","x":4,"v":11.5},{"p":"R4","x":4,"v":11.2},{"p":"R4","x":4,"v":10.95},{"p":"R4","x":4,"v":10.7},{"p":"R4","x":4,"v":10.45},{"p":"R4","x":4,"v":10.2},{"p":"R4","x":4,"v":10.0},{"p":"R4","x":4,"v":9.88},{"p":"R4","x":4,"v":9.14},
{"p":"R4","x":5,"v":14.83},{"p":"R4","x":5,"v":14.65},{"p":"R4","x":5,"v":14.3},{"p":"R4","x":5,"v":13.95},{"p":"R4","x":5,"v":13.6},{"p":"R4","x":5,"v":13.25},{"p":"R4","x":5,"v":12.9},{"p":"R4","x":5,"v":12.55},{"p":"R4","x":5,"v":12.2},{"p":"R4","x":5,"v":11.85},{"p":"R4","x":5,"v":11.5},{"p":"R4","x":5,"v":11.2},{"p":"R4","x":5,"v":10.9},{"p":"R4","x":5,"v":10.6},{"p":"R4","x":5,"v":10.39},
{"p":"R4","x":6,"v":13.64},{"p":"R4","x":6,"v":13.0},{"p":"R4","x":6,"v":12.6},{"p":"R4","x":6,"v":12.3},{"p":"R4","x":6,"v":11.84},{"p":"R4","x":6,"v":11.65},{"p":"R4","x":6,"v":11.5},
{"p":"R4","x":7,"v":12.35},

{"p":"M4","x":1,"v":16.15},{"p":"M4","x":1,"v":15.08},{"p":"M4","x":1,"v":13.0},{"p":"M4","x":1,"v":12.08},{"p":"M4","x":1,"v":7.55},{"p":"M4","x":1,"v":7.49},{"p":"M4","x":1,"v":2.75},
{"p":"M4","x":2,"v":15.6},{"p":"M4","x":2,"v":14.59},{"p":"M4","x":2,"v":14.13},{"p":"M4","x":2,"v":13.91},{"p":"M4","x":2,"v":13.55},{"p":"M4","x":2,"v":12.9},{"p":"M4","x":2,"v":12.54},{"p":"M4","x":2,"v":11.93},{"p":"M4","x":2,"v":11.77},{"p":"M4","x":2,"v":11.22},{"p":"M4","x":2,"v":10.61},{"p":"M4","x":2,"v":10.3},{"p":"M4","x":2,"v":9.94},{"p":"M4","x":2,"v":9.69},{"p":"M4","x":2,"v":8.93},{"p":"M4","x":2,"v":8.47},{"p":"M4","x":2,"v":7.86},{"p":"M4","x":2,"v":7.71},{"p":"M4","x":2,"v":7.34},{"p":"M4","x":2,"v":5.26},{"p":"M4","x":2,"v":5.2},
{"p":"M4","x":3,"v":14.77},{"p":"M4","x":3,"v":14.45},{"p":"M4","x":3,"v":14.1},{"p":"M4","x":3,"v":13.75},{"p":"M4","x":3,"v":13.4},{"p":"M4","x":3,"v":13.0},{"p":"M4","x":3,"v":12.7},{"p":"M4","x":3,"v":12.4},{"p":"M4","x":3,"v":12.1},{"p":"M4","x":3,"v":11.8},{"p":"M4","x":3,"v":11.5},{"p":"M4","x":3,"v":11.2},{"p":"M4","x":3,"v":10.9},{"p":"M4","x":3,"v":10.6},{"p":"M4","x":3,"v":10.3},{"p":"M4","x":3,"v":10.0},{"p":"M4","x":3,"v":9.7},{"p":"M4","x":3,"v":9.4},{"p":"M4","x":3,"v":9.1},{"p":"M4","x":3,"v":8.8},{"p":"M4","x":3,"v":8.5},{"p":"M4","x":3,"v":8.2},{"p":"M4","x":3,"v":7.9},{"p":"M4","x":3,"v":7.5},{"p":"M4","x":3,"v":5.96},
{"p":"M4","x":4,"v":14.07},{"p":"M4","x":4,"v":13.0},{"p":"M4","x":4,"v":12.75},{"p":"M4","x":4,"v":12.5},{"p":"M4","x":4,"v":12.25},{"p":"M4","x":4,"v":12.0},{"p":"M4","x":4,"v":11.75},{"p":"M4","x":4,"v":11.5},{"p":"M4","x":4,"v":11.25},{"p":"M4","x":4,"v":11.0},{"p":"M4","x":4,"v":10.75},{"p":"M4","x":4,"v":10.5},{"p":"M4","x":4,"v":10.25},{"p":"M4","x":4,"v":10.0},{"p":"M4","x":4,"v":9.75},{"p":"M4","x":4,"v":9.5},{"p":"M4","x":4,"v":9.25},{"p":"M4","x":4,"v":9.0},{"p":"M4","x":4,"v":8.75},{"p":"M4","x":4,"v":8.5},{"p":"M4","x":4,"v":8.2},{"p":"M4","x":4,"v":7.9},{"p":"M4","x":4,"v":7.6},
{"p":"M4","x":5,"v":12.84},{"p":"M4","x":5,"v":11.93},{"p":"M4","x":5,"v":11.7},{"p":"M4","x":5,"v":11.45},{"p":"M4","x":5,"v":11.2},{"p":"M4","x":5,"v":10.95},{"p":"M4","x":5,"v":10.7},{"p":"M4","x":5,"v":10.45},{"p":"M4","x":5,"v":10.2},{"p":"M4","x":5,"v":9.95},{"p":"M4","x":5,"v":9.7},{"p":"M4","x":5,"v":9.45},{"p":"M4","x":5,"v":9.2},{"p":"M4","x":5,"v":8.95},{"p":"M4","x":5,"v":8.62},
{"p":"M4","x":6,"v":11.93},{"p":"M4","x":6,"v":11.16},{"p":"M4","x":6,"v":10.86},{"p":"M4","x":6,"v":10.6},{"p":"M4","x":6,"v":10.4},{"p":"M4","x":6,"v":10.1},{"p":"M4","x":6,"v":9.79},
{"p":"M4","x":7,"v":10.55},

{"p":"P4","x":1,"v":0.934},{"p":"P4","x":1,"v":0.901},{"p":"P4","x":1,"v":0.87},{"p":"P4","x":1,"v":0.865},{"p":"P4","x":1,"v":0.841},{"p":"P4","x":1,"v":0.774},{"p":"P4","x":1,"v":0.756},
{"p":"P4","x":2,"v":0.931},{"p":"P4","x":2,"v":0.921},{"p":"P4","x":2,"v":0.918},{"p":"P4","x":2,"v":0.914},{"p":"P4","x":2,"v":0.91},{"p":"P4","x":2,"v":0.906},{"p":"P4","x":2,"v":0.902},{"p":"P4","x":2,"v":0.895},{"p":"P4","x":2,"v":0.89},{"p":"P4","x":2,"v":0.885},{"p":"P4","x":2,"v":0.88},{"p":"P4","x":2,"v":0.87},{"p":"P4","x":2,"v":0.865},{"p":"P4","x":2,"v":0.86},{"p":"P4","x":2,"v":0.852},{"p":"P4","x":2,"v":0.849},{"p":"P4","x":2,"v":0.845},{"p":"P4","x":2,"v":0.835},{"p":"P4","x":2,"v":0.825},{"p":"P4","x":2,"v":0.814},{"p":"P4","x":2,"v":0.765},
{"p":"P4","x":3,"v":0.936},{"p":"P4","x":3,"v":0.932},{"p":"P4","x":3,"v":0.928},{"p":"P4","x":3,"v":0.924},{"p":"P4","x":3,"v":0.92},{"p":"P4","x":3,"v":0.916},{"p":"P4","x":3,"v":0.912},{"p":"P4","x":3,"v":0.908},{"p":"P4","x":3,"v":0.904},{"p":"P4","x":3,"v":0.9},{"p":"P4","x":3,"v":0.896},{"p":"P4","x":3,"v":0.892},{"p":"P4","x":3,"v":0.889},{"p":"P4","x":3,"v":0.885},{"p":"P4","x":3,"v":0.881},{"p":"P4","x":3,"v":0.877},{"p":"P4","x":3,"v":0.873},{"p":"P4","x":3,"v":0.869},{"p":"P4","x":3,"v":0.865},{"p":"P4","x":3,"v":0.861},{"p":"P4","x":3,"v":0.858},{"p":"P4","x":3,"v":0.847},{"p":"P4","x":3,"v":0.843},{"p":"P4","x":3,"v":0.838},{"p":"P4","x":3,"v":0.833},{"p":"P4","x":3,"v":0.811},{"p":"P4","x":3,"v":0.805},
{"p":"P4","x":4,"v":0.93},{"p":"P4","x":4,"v":0.926},{"p":"P4","x":4,"v":0.922},{"p":"P4","x":4,"v":0.918},{"p":"P4","x":4,"v":0.914},{"p":"P4","x":4,"v":0.91},{"p":"P4","x":4,"v":0.906},{"p":"P4","x":4,"v":0.902},{"p":"P4","x":4,"v":0.898},{"p":"P4","x":4,"v":0.894},{"p":"P4","x":4,"v":0.89},{"p":"P4","x":4,"v":0.886},{"p":"P4","x":4,"v":0.882},{"p":"P4","x":4,"v":0.878},{"p":"P4","x":4,"v":0.874},{"p":"P4","x":4,"v":0.87},{"p":"P4","x":4,"v":0.866},{"p":"P4","x":4,"v":0.862},{"p":"P4","x":4,"v":0.858},{"p":"P4","x":4,"v":0.854},{"p":"P4","x":4,"v":0.849},{"p":"P4","x":4,"v":0.845},{"p":"P4","x":4,"v":0.826},
{"p":"P4","x":5,"v":0.925},{"p":"P4","x":5,"v":0.92},{"p":"P4","x":5,"v":0.915},{"p":"P4","x":5,"v":0.91},{"p":"P4","x":5,"v":0.905},{"p":"P4","x":5,"v":0.9},{"p":"P4","x":5,"v":0.895},{"p":"P4","x":5,"v":0.89},{"p":"P4","x":5,"v":0.885},{"p":"P4","x":5,"v":0.88},{"p":"P4","x":5,"v":0.875},{"p":"P4","x":5,"v":0.87},{"p":"P4","x":5,"v":0.865},{"p":"P4","x":5,"v":0.86},
{"p":"P4","x":6,"v":0.911},{"p":"P4","x":6,"v":0.9},{"p":"P4","x":6,"v":0.896},{"p":"P4","x":6,"v":0.892},{"p":"P4","x":6,"v":0.888},{"p":"P4","x":6,"v":0.885},{"p":"P4","x":6,"v":0.882},
{"p":"P4","x":7,"v":0.898}
],
"s":[
{"p":"R1","x":2,"m":4.89,"d":4.85},{"p":"R1","x":3,"m":4.3,"d":4.24},{"p":"R1","x":4,"m":4.06,"d":4.04},{"p":"R1","x":5,"m":3.85,"d":3.85},{"p":"R1","x":6,"m":3.74,"d":3.71},{"p":"R1","x":7,"m":3.63,"d":3.63},
{"p":"M1","x":2,"m":0.66,"d":1.24},{"p":"M1","x":3,"m":0.66,"d":0.86},{"p":"M1","x":4,"m":0.66,"d":0.62},{"p":"M1","x":5,"m":0.66,"d":0.45},{"p":"M1","x":6,"m":0.66,"d":0.52},{"p":"M1","x":7,"m":0.66,"d":0.66},
{"p":"P1","x":2,"m":0.925,"d":0.923},{"p":"P1","x":3,"m":0.931,"d":0.931},{"p":"P1","x":4,"m":0.935,"d":0.935},{"p":"P1","x":5,"m":0.937,"d":0.9365},{"p":"P1","x":6,"m":0.938,"d":0.938},{"p":"P1","x":7,"m":0.939,"d":0.939},
{"p":"R2","x":2,"m":7.2,"d":6.95},{"p":"R2","x":3,"m":6.8,"d":6.8},{"p":"R2","x":4,"m":6.62,"d":6.6},{"p":"R2","x":5,"m":6.55,"d":6.5},{"p":"R2","x":6,"m":6.42,"d":6.35},{"p":"R2","x":7,"m":6.4,"d":6.4},
{"p":"M2","x":2,"m":3.9,"d":3.73},{"p":"M2","x":3,"m":3.9,"d":4.15},{"p":"M2","x":4,"m":3.9,"d":3.68},{"p":"M2","x":5,"m":3.9,"d":3.96},{"p":"M2","x":6,"m":3.9,"d":3.49},{"p":"M2","x":7,"m":3.9,"d":3.9},
{"p":"P2","x":2,"m":0.906,"d":0.911},{"p":"P2","x":3,"m":0.912,"d":0.912},{"p":"P2","x":4,"m":0.916,"d":0.916},{"p":"P2","x":5,"m":0.917,"d":0.917},{"p":"P2","x":6,"m":0.918,"d":0.918},{"p":"P2","x":7,"m":0.919,"d":0.919},
{"p":"R3","x":2,"m":8.08,"d":8.0},{"p":"R3","x":3,"m":7.67,"d":7.55},{"p":"R3","x":4,"m":7.5,"d":7.45},{"p":"R3","x":5,"m":7.38,"d":7.28},{"p":"R3","x":6,"m":7.38,"d":7.5},{"p":"R3","x":7,"m":7.37,"d":7.37},
{"p":"M3","x":2,"m":4.57,"d":5.44},{"p":"M3","x":3,"m":4.57,"d":4.52},{"p":"M3","x":4,"m":4.57,"d":4.52},{"p":"M3","x":5,"m":4.57,"d":4.2},{"p":"M3","x":6,"m":4.57,"d":4.32},{"p":"M3","x":7,"m":4.57,"d":4.57},
{"p":"P3","x":2,"m":0.8285,"d":0.8285},{"p":"P3","x":3,"m":0.835,"d":0.836},{"p":"P3","x":4,"m":0.838,"d":0.838},{"p":"P3","x":5,"m":0.843,"d":0.843},{"p":"P3","x":6,"m":0.845,"d":0.845},{"p":"P3","x":7,"m":0.847,"d":0.847},
{"p":"R4","x":2,"m":12.8,"d":12.46},{"p":"R4","x":3,"m":12.65,"d":12.83},{"p":"R4","x":4,"m":12.46,"d":12.25},{"p":"R4","x":5,"m":12.41,"d":12.37},{"p":"R4","x":6,"m":12.37,"d":12.23},{"p":"R4","x":7,"m":12.35,"d":12.35},
{"p":"M4","x":2,"m":10.55,"d":10.4},{"p":"M4","x":3,"m":10.55,"d":10.7},{"p":"M4","x":4,"m":10.55,"d":10.55},{"p":"M4","x":5,"m":10.55,"d":10.8},{"p":"M4","x":6,"m":10.55,"d":10.4},{"p":"M4","x":7,"m":10.55,"d":10.55},
{"p":"P4","x":2,"m":0.875,"d":0.885},{"p":"P4","x":3,"m":0.884,"d":0.889},{"p":"P4","x":4,"m":0.89,"d":0.893},{"p":"P4","x":5,"m":0.892,"d":0.896},{"p":"P4","x":6,"m":0.894,"d":0.894},{"p":"P4","x":7,"m":0.898,"d":0.898}
],
"h":[
{"p":"R1","t":"RMSE","x":4.17,"y":9.12},
{"p":"M1","t":"MB","x":4.31,"y":4.7},
{"p":"P1","t":"PCC","x":4.67,"y":0.9726}
],
"n":[
{"p":"M1","t":"NA1","x":6.96,"y":3.85},
{"p":"M2","t":"NA2","x":7.25,"y":7.1},
{"p":"M3","t":"NA3","x":7.31,"y":7.13},
{"p":"M4","t":"NA4","x":7.5,"y":15.9}
]
},
"hconcat":[
{"hconcat":[
{"vconcat":[
{"width":392,"height":219,
"encoding":{"x":{"field":"x","type":"quantitative","scale":{"domain":[0.5,8],"nice":false,"zero":false},"axis":{"values":[0.5,1,1.5,2,2.5,3,3.5,4,4.5,5,5.5,6,6.5,7,7.5],"labels":false,"title":null}}},
"layer":[
{"data":{"name":"t"},"transform":[{"filter":"datum.p==='R1'"}],"mark":{"type":"tick","orient":"horizontal","size":16,"thickness":2,"color":"black","opacity":1},"encoding":{"y":{"field":"v","type":"quantitative","scale":{"domain":[2,10],"nice":false,"zero":false},"axis":{"values":[2,4,6,8,10],"labelExpr":"datum.value % 4 === 0 ? format(datum.value, 'd') : ''","labelOverlap":false,"labelPadding":6,"title":null}}}},
{"data":{"name":"s"},"transform":[{"filter":"datum.p==='R1'"}],"mark":{"type":"line","color":"black","strokeWidth":2},"encoding":{"y":{"field":"m","type":"quantitative","title":null}}},
{"data":{"name":"s"},"transform":[{"filter":"datum.p==='R1'"}],"mark":{"type":"line","color":"#ff2a00","strokeWidth":2.5,"strokeDash":[9,7]},"encoding":{"y":{"field":"d","type":"quantitative","title":null}}},
{"data":{"name":"s"},"transform":[{"filter":"datum.p==='R1'"}],"mark":{"type":"point","shape":"M-1,-1L1,1M-1,1L1,-1","filled":false,"color":"#555555","strokeWidth":1.2,"size":100,"opacity":1},"encoding":{"y":{"field":"m","type":"quantitative","title":null}}},
{"data":{"name":"s"},"transform":[{"filter":"datum.p==='R1'"}],"mark":{"type":"point","shape":"M-1,0L1,0M0,-1L0,1","filled":false,"color":"#ff0000","strokeWidth":1.2,"size":100,"opacity":1},"encoding":{"y":{"field":"d","type":"quantitative","title":null}}},
{"data":{"name":"h"},"transform":[{"filter":"datum.p==='R1'"}],"mark":{"type":"text","font":"Liberation Sans","fontSize":47,"fontWeight":"bold","color":"#0c2299","align":"center","baseline":"alphabetic"},"encoding":{"y":{"field":"y","type":"quantitative","title":null},"text":{"field":"t"}}}
]},
{"width":392,"height":219,
"encoding":{"x":{"field":"x","type":"quantitative","scale":{"domain":[0.5,8],"nice":false,"zero":false},"axis":{"values":[0.5,1,1.5,2,2.5,3,3.5,4,4.5,5,5.5,6,6.5,7,7.5],"labels":false,"title":null}}},
"layer":[
{"data":{"name":"t"},"transform":[{"filter":"datum.p==='R2'"}],"mark":{"type":"tick","orient":"horizontal","size":16,"thickness":2,"color":"black","opacity":1},"encoding":{"y":{"field":"v","type":"quantitative","scale":{"domain":[2,15],"nice":false,"zero":false},"axis":{"values":[4,6,8,10,12,14],"labelExpr":"datum.value % 4 === 0 ? format(datum.value, 'd') : ''","labelOverlap":false,"labelPadding":6,"title":null}}}},
{"data":{"name":"s"},"transform":[{"filter":"datum.p==='R2'"}],"mark":{"type":"line","color":"black","strokeWidth":2},"encoding":{"y":{"field":"m","type":"quantitative","title":null}}},
{"data":{"name":"s"},"transform":[{"filter":"datum.p==='R2'"}],"mark":{"type":"line","color":"#ff2a00","strokeWidth":2.5,"strokeDash":[9,7]},"encoding":{"y":{"field":"d","type":"quantitative","title":null}}},
{"data":{"name":"s"},"transform":[{"filter":"datum.p==='R2'"}],"mark":{"type":"point","shape":"M-1,-1L1,1M-1,1L1,-1","filled":false,"color":"#555555","strokeWidth":1.2,"size":100,"opacity":1},"encoding":{"y":{"field":"m","type":"quantitative","title":null}}},
{"data":{"name":"s"},"transform":[{"filter":"datum.p==='R2'"}],"mark":{"type":"point","shape":"M-1,0L1,0M0,-1L0,1","filled":false,"color":"#ff0000","strokeWidth":1.2,"size":100,"opacity":1},"encoding":{"y":{"field":"d","type":"quantitative","title":null}}}
]},
{"width":392,"height":219,
"encoding":{"x":{"field":"x","type":"quantitative","scale":{"domain":[0.5,8],"nice":false,"zero":false},"axis":{"values":[0.5,1,1.5,2,2.5,3,3.5,4,4.5,5,5.5,6,6.5,7,7.5],"labels":false,"title":null}}},
"layer":[
{"data":{"name":"t"},"transform":[{"filter":"datum.p==='R3'"}],"mark":{"type":"tick","orient":"horizontal","size":16,"thickness":2,"color":"black","opacity":1},"encoding":{"y":{"field":"v","type":"quantitative","scale":{"domain":[4,15],"nice":false,"zero":false},"axis":{"values":[4,6,8,10,12,14],"labelExpr":"datum.value % 4 === 0 ? format(datum.value, 'd') : ''","labelOverlap":false,"labelPadding":6,"title":null}}}},
{"data":{"name":"s"},"transform":[{"filter":"datum.p==='R3'"}],"mark":{"type":"line","color":"black","strokeWidth":2},"encoding":{"y":{"field":"m","type":"quantitative","title":null}}},
{"data":{"name":"s"},"transform":[{"filter":"datum.p==='R3'"}],"mark":{"type":"line","color":"#ff2a00","strokeWidth":2.5,"strokeDash":[9,7]},"encoding":{"y":{"field":"d","type":"quantitative","title":null}}},
{"data":{"name":"s"},"transform":[{"filter":"datum.p==='R3'"}],"mark":{"type":"point","shape":"M-1,-1L1,1M-1,1L1,-1","filled":false,"color":"#555555","strokeWidth":1.2,"size":100,"opacity":1},"encoding":{"y":{"field":"m","type":"quantitative","title":null}}},
{"data":{"name":"s"},"transform":[{"filter":"datum.p==='R3'"}],"mark":{"type":"point","shape":"M-1,0L1,0M0,-1L0,1","filled":false,"color":"#ff0000","strokeWidth":1.2,"size":100,"opacity":1},"encoding":{"y":{"field":"d","type":"quantitative","title":null}}}
]},
{"width":392,"height":219,
"encoding":{"x":{"field":"x","type":"quantitative","scale":{"domain":[0.5,8],"nice":false,"zero":false},"axis":{"values":[0.5,1,1.5,2,2.5,3,3.5,4,4.5,5,5.5,6,6.5,7,7.5],"labelExpr":"datum.value % 1 === 0 ? format(datum.value, 'd') : ''","labelOverlap":false,"labelPadding":4,"title":null}}},
"layer":[
{"data":{"name":"t"},"transform":[{"filter":"datum.p==='R4'"}],"mark":{"type":"tick","orient":"horizontal","size":16,"thickness":2,"color":"black","opacity":1},"encoding":{"y":{"field":"v","type":"quantitative","scale":{"domain":[5,20],"nice":false,"zero":false},"axis":{"values":[6,9,12,15,18],"labelExpr":"datum.value % 6 === 0 ? format(datum.value, 'd') : ''","labelOverlap":false,"labelPadding":6,"title":null}}}},
{"data":{"name":"s"},"transform":[{"filter":"datum.p==='R4'"}],"mark":{"type":"line","color":"black","strokeWidth":2},"encoding":{"y":{"field":"m","type":"quantitative","title":null}}},
{"data":{"name":"s"},"transform":[{"filter":"datum.p==='R4'"}],"mark":{"type":"line","color":"#ff2a00","strokeWidth":2.5,"strokeDash":[9,7]},"encoding":{"y":{"field":"d","type":"quantitative","title":null}}},
{"data":{"name":"s"},"transform":[{"filter":"datum.p==='R4'"}],"mark":{"type":"point","shape":"M-1,-1L1,1M-1,1L1,-1","filled":false,"color":"#555555","strokeWidth":1.2,"size":100,"opacity":1},"encoding":{"y":{"field":"m","type":"quantitative","title":null}}},
{"data":{"name":"s"},"transform":[{"filter":"datum.p==='R4'"}],"mark":{"type":"point","shape":"M-1,0L1,0M0,-1L0,1","filled":false,"color":"#ff0000","strokeWidth":1.2,"size":100,"opacity":1},"encoding":{"y":{"field":"d","type":"quantitative","title":null}}}
]}
],"spacing":0,"bounds":"flush"},
{"vconcat":[
{"width":362,"height":219,
"encoding":{"x":{"field":"x","type":"quantitative","scale":{"domain":[0.5,7.5],"nice":false,"zero":false},"axis":{"values":[0.5,1,1.5,2,2.5,3,3.5,4,4.5,5,5.5,6,6.5,7,7.5],"labels":false,"title":null}}},
"layer":[
{"data":{"name":"t"},"transform":[{"filter":"datum.p==='M1'"}],"mark":{"type":"tick","orient":"horizontal","size":16,"thickness":2,"color":"black","opacity":1},"encoding":{"y":{"field":"v","type":"quantitative","scale":{"domain":[-7.5,6.2],"nice":false,"zero":false},"axis":{"values":[-4,-2,0,2,4,6],"labelExpr":"datum.value % 4 === 0 ? (datum.value < 0 ? '-' + format(-datum.value, 'd') : format(datum.value, 'd')) : ''","labelOverlap":false,"labelPadding":6,"title":null}}}},
{"data":{"name":"s"},"transform":[{"filter":"datum.p==='M1'"}],"mark":{"type":"line","color":"black","strokeWidth":2},"encoding":{"y":{"field":"m","type":"quantitative","title":null}}},
{"data":{"name":"s"},"transform":[{"filter":"datum.p==='M1'"}],"mark":{"type":"line","color":"#ff2a00","strokeWidth":2.5,"strokeDash":[9,7]},"encoding":{"y":{"field":"d","type":"quantitative","title":null}}},
{"data":{"name":"s"},"transform":[{"filter":"datum.p==='M1'"}],"mark":{"type":"point","shape":"M-1,-1L1,1M-1,1L1,-1","filled":false,"color":"#555555","strokeWidth":1.2,"size":100,"opacity":1},"encoding":{"y":{"field":"m","type":"quantitative","title":null}}},
{"data":{"name":"s"},"transform":[{"filter":"datum.p==='M1'"}],"mark":{"type":"point","shape":"M-1,0L1,0M0,-1L0,1","filled":false,"color":"#ff0000","strokeWidth":1.2,"size":100,"opacity":1},"encoding":{"y":{"field":"d","type":"quantitative","title":null}}},
{"data":{"name":"h"},"transform":[{"filter":"datum.p==='M1'"}],"mark":{"type":"text","font":"Liberation Sans","fontSize":47,"fontWeight":"bold","color":"#0c2299","align":"center","baseline":"alphabetic"},"encoding":{"y":{"field":"y","type":"quantitative","title":null},"text":{"field":"t"}}},
{"data":{"name":"n"},"transform":[{"filter":"datum.p==='M1'"}],"mark":{"type":"text","font":"Liberation Sans","fontSize":30,"color":"black","align":"right","baseline":"alphabetic"},"encoding":{"y":{"field":"y","type":"quantitative","title":null},"text":{"field":"t"}}}
]},
{"width":362,"height":219,
"encoding":{"x":{"field":"x","type":"quantitative","scale":{"domain":[0.5,7.5],"nice":false,"zero":false},"axis":{"values":[0.5,1,1.5,2,2.5,3,3.5,4,4.5,5,5.5,6,6.5,7,7.5],"labels":false,"title":null}}},
"layer":[
{"data":{"name":"t"},"transform":[{"filter":"datum.p==='M2'"}],"mark":{"type":"tick","orient":"horizontal","size":16,"thickness":2,"color":"black","opacity":1},"encoding":{"y":{"field":"v","type":"quantitative","scale":{"domain":[-2.5,10],"nice":false,"zero":false},"axis":{"values":[0,2,4,6,8,10],"labelExpr":"datum.value % 4 === 0 ? format(datum.value, 'd') : ''","labelOverlap":false,"labelPadding":6,"title":null}}}},
{"data":{"name":"s"},"transform":[{"filter":"datum.p==='M2'"}],"mark":{"type":"line","color":"black","strokeWidth":2},"encoding":{"y":{"field":"m","type":"quantitative","title":null}}},
{"data":{"name":"s"},"transform":[{"filter":"datum.p==='M2'"}],"mark":{"type":"line","color":"#ff2a00","strokeWidth":2.5,"strokeDash":[9,7]},"encoding":{"y":{"field":"d","type":"quantitative","title":null}}},
{"data":{"name":"s"},"transform":[{"filter":"datum.p==='M2'"}],"mark":{"type":"point","shape":"M-1,-1L1,1M-1,1L1,-1","filled":false,"color":"#555555","strokeWidth":1.2,"size":100,"opacity":1},"encoding":{"y":{"field":"m","type":"quantitative","title":null}}},
{"data":{"name":"s"},"transform":[{"filter":"datum.p==='M2'"}],"mark":{"type":"point","shape":"M-1,0L1,0M0,-1L0,1","filled":false,"color":"#ff0000","strokeWidth":1.2,"size":100,"opacity":1},"encoding":{"y":{"field":"d","type":"quantitative","title":null}}},
{"data":{"name":"n"},"transform":[{"filter":"datum.p==='M2'"}],"mark":{"type":"text","font":"Liberation Sans","fontSize":30,"color":"black","align":"right","baseline":"alphabetic"},"encoding":{"y":{"field":"y","type":"quantitative","title":null},"text":{"field":"t"}}}
]},
{"width":362,"height":219,
"encoding":{"x":{"field":"x","type":"quantitative","scale":{"domain":[0.5,7.5],"nice":false,"zero":false},"axis":{"values":[0.5,1,1.5,2,2.5,3,3.5,4,4.5,5,5.5,6,6.5,7,7.5],"labels":false,"title":null}}},
"layer":[
{"data":{"name":"t"},"transform":[{"filter":"datum.p==='M3'"}],"mark":{"type":"tick","orient":"horizontal","size":16,"thickness":2,"color":"black","opacity":1},"encoding":{"y":{"field":"v","type":"quantitative","scale":{"domain":[-5,11.5],"nice":false,"zero":false},"axis":{"values":[-4,-2,0,2,4,6,8,10],"labelExpr":"datum.value % 4 === 0 ? (datum.value < 0 ? '-' + format(-datum.value, 'd') : format(datum.value, 'd')) : ''","labelOverlap":false,"labelPadding":6,"title":null}}}},
{"data":{"name":"s"},"transform":[{"filter":"datum.p==='M3'"}],"mark":{"type":"line","color":"black","strokeWidth":2},"encoding":{"y":{"field":"m","type":"quantitative","title":null}}},
{"data":{"name":"s"},"transform":[{"filter":"datum.p==='M3'"}],"mark":{"type":"line","color":"#ff2a00","strokeWidth":2.5,"strokeDash":[9,7]},"encoding":{"y":{"field":"d","type":"quantitative","title":null}}},
{"data":{"name":"s"},"transform":[{"filter":"datum.p==='M3'"}],"mark":{"type":"point","shape":"M-1,-1L1,1M-1,1L1,-1","filled":false,"color":"#555555","strokeWidth":1.2,"size":100,"opacity":1},"encoding":{"y":{"field":"m","type":"quantitative","title":null}}},
{"data":{"name":"s"},"transform":[{"filter":"datum.p==='M3'"}],"mark":{"type":"point","shape":"M-1,0L1,0M0,-1L0,1","filled":false,"color":"#ff0000","strokeWidth":1.2,"size":100,"opacity":1},"encoding":{"y":{"field":"d","type":"quantitative","title":null}}},
{"data":{"name":"n"},"transform":[{"filter":"datum.p==='M3'"}],"mark":{"type":"text","font":"Liberation Sans","fontSize":30,"color":"black","align":"right","baseline":"alphabetic"},"encoding":{"y":{"field":"y","type":"quantitative","title":null},"text":{"field":"t"}}}
]},
{"width":362,"height":219,
"encoding":{"x":{"field":"x","type":"quantitative","scale":{"domain":[0.5,7.5],"nice":false,"zero":false},"axis":{"values":[0.5,1,1.5,2,2.5,3,3.5,4,4.5,5,5.5,6,6.5,7,7.5],"labelExpr":"datum.value % 1 === 0 ? format(datum.value, 'd') : ''","labelOverlap":false,"labelPadding":4,"title":"Number of models","titleFontSize":34,"titleFontWeight":"normal","titlePadding":-10}}},
"layer":[
{"data":{"name":"t"},"transform":[{"filter":"datum.p==='M4'"}],"mark":{"type":"tick","orient":"horizontal","size":16,"thickness":2,"color":"black","opacity":1},"encoding":{"y":{"field":"v","type":"quantitative","scale":{"domain":[0,20],"nice":false,"zero":false},"axis":{"values":[0,3.5,7,10.5,14,17.5],"labelExpr":"datum.value % 7 === 0 ? format(datum.value, 'd') : ''","labelOverlap":false,"labelPadding":6,"title":null}}}},
{"data":{"name":"s"},"transform":[{"filter":"datum.p==='M4'"}],"mark":{"type":"line","color":"black","strokeWidth":2},"encoding":{"y":{"field":"m","type":"quantitative","title":null}}},
{"data":{"name":"s"},"transform":[{"filter":"datum.p==='M4'"}],"mark":{"type":"line","color":"#ff2a00","strokeWidth":2.5,"strokeDash":[9,7]},"encoding":{"y":{"field":"d","type":"quantitative","title":null}}},
{"data":{"name":"s"},"transform":[{"filter":"datum.p==='M4'"}],"mark":{"type":"point","shape":"M-1,-1L1,1M-1,1L1,-1","filled":false,"color":"#555555","strokeWidth":1.2,"size":100,"opacity":1},"encoding":{"y":{"field":"m","type":"quantitative","title":null}}},
{"data":{"name":"s"},"transform":[{"filter":"datum.p==='M4'"}],"mark":{"type":"point","shape":"M-1,0L1,0M0,-1L0,1","filled":false,"color":"#ff0000","strokeWidth":1.2,"size":100,"opacity":1},"encoding":{"y":{"field":"d","type":"quantitative","title":null}}},
{"data":{"name":"n"},"transform":[{"filter":"datum.p==='M4'"}],"mark":{"type":"text","font":"Liberation Sans","fontSize":30,"color":"black","align":"right","baseline":"alphabetic"},"encoding":{"y":{"field":"y","type":"quantitative","title":null},"text":{"field":"t"}}}
]}
],"spacing":0,"bounds":"flush"}
],"spacing":-18},
{"vconcat":[
{"width":362,"height":219,
"encoding":{"x":{"field":"x","type":"quantitative","scale":{"domain":[0.5,7.5],"nice":false,"zero":false},"axis":{"values":[0.5,1,1.5,2,2.5,3,3.5,4,4.5,5,5.5,6,6.5,7,7.5],"labels":false,"title":null}}},
"layer":[
{"data":{"name":"t"},"transform":[{"filter":"datum.p==='P1'"}],"mark":{"type":"tick","orient":"horizontal","size":16,"thickness":2,"color":"black","opacity":1},"encoding":{"y":{"field":"v","type":"quantitative","scale":{"domain":[0.75,1],"nice":false,"zero":false},"axis":{"orient":"right","values":[0.75,0.8,0.85,0.9,0.95,1],"labelExpr":"round(datum.value*100) % 10 === 0 ? format(datum.value, '.1f') : ''","labelOverlap":false,"labelFontSize":27,"labelPadding":1,"title":null}}}},
{"data":{"name":"s"},"transform":[{"filter":"datum.p==='P1'"}],"mark":{"type":"line","strokeWidth":2},"encoding":{"y":{"field":"m","type":"quantitative","title":null},"color":{"datum":"Mean","type":"nominal","scale":{"domain":["Mean","Median"],"range":["black","#ff2a00"]},"legend":{"orient":"none","legendX":154,"legendY":123,"title":null,"strokeColor":"black","fillColor":"white","padding":7,"rowPadding":5,"labelFontSize":28,"labelFont":"Liberation Sans","labelColor":"black","labelOffset":49,"symbolSize":900,"symbolStrokeWidth":1.5,"encode":{"symbols":{"update":{"shape":{"signal":"datum.value === 'Mean' ? 'M-1,0L3.6,0M0.43,-0.7L2.23,0.7M0.43,0.7L2.23,-0.7' : 'M-1,0L-0.4,0M0.13,0L0.73,0M0.87,0L1.8,0M1.93,0L2.53,0M3,0L3.6,0M1.33,-0.8L1.33,0.8'"},"stroke":{"signal":"datum.value === 'Mean' ? 'black' : '#ff2a00'"},"strokeDash":{"value":[1,0]},"strokeWidth":{"value":1.5},"fill":{"value":"transparent"},"opacity":{"value":1}}}}}}}},
{"data":{"name":"s"},"transform":[{"filter":"datum.p==='P1'"}],"mark":{"type":"line","strokeWidth":2.5,"strokeDash":[9,7]},"encoding":{"y":{"field":"d","type":"quantitative","title":null},"color":{"datum":"Median","type":"nominal"}}},
{"data":{"name":"s"},"transform":[{"filter":"datum.p==='P1'"}],"mark":{"type":"point","shape":"M-1,-1L1,1M-1,1L1,-1","filled":false,"color":"#555555","strokeWidth":1.2,"size":100,"opacity":1},"encoding":{"y":{"field":"m","type":"quantitative","title":null}}},
{"data":{"name":"s"},"transform":[{"filter":"datum.p==='P1'"}],"mark":{"type":"point","shape":"M-1,0L1,0M0,-1L0,1","filled":false,"color":"#ff0000","strokeWidth":1.2,"size":100,"opacity":1},"encoding":{"y":{"field":"d","type":"quantitative","title":null}}},
{"data":{"name":"h"},"transform":[{"filter":"datum.p==='P1'"}],"mark":{"type":"text","font":"Liberation Sans","fontSize":47,"fontWeight":"bold","color":"#0c2299","align":"center","baseline":"alphabetic"},"encoding":{"y":{"field":"y","type":"quantitative","title":null},"text":{"field":"t"}}}
]},
{"width":362,"height":219,
"encoding":{"x":{"field":"x","type":"quantitative","scale":{"domain":[0.5,7.5],"nice":false,"zero":false},"axis":{"values":[0.5,1,1.5,2,2.5,3,3.5,4,4.5,5,5.5,6,6.5,7,7.5],"labels":false,"title":null}}},
"layer":[
{"data":{"name":"t"},"transform":[{"filter":"datum.p==='P2'"}],"mark":{"type":"tick","orient":"horizontal","size":16,"thickness":2,"color":"black","opacity":1},"encoding":{"y":{"field":"v","type":"quantitative","scale":{"domain":[0.75,1],"nice":false,"zero":false},"axis":{"orient":"right","values":[0.75,0.8,0.85,0.9,0.95,1],"labelExpr":"round(datum.value*100) % 10 === 0 ? format(datum.value, '.1f') : ''","labelOverlap":false,"labelFontSize":27,"labelPadding":1,"title":null}}}},
{"data":{"name":"s"},"transform":[{"filter":"datum.p==='P2'"}],"mark":{"type":"line","color":"black","strokeWidth":2},"encoding":{"y":{"field":"m","type":"quantitative","title":null}}},
{"data":{"name":"s"},"transform":[{"filter":"datum.p==='P2'"}],"mark":{"type":"line","color":"#ff2a00","strokeWidth":2.5,"strokeDash":[9,7]},"encoding":{"y":{"field":"d","type":"quantitative","title":null}}},
{"data":{"name":"s"},"transform":[{"filter":"datum.p==='P2'"}],"mark":{"type":"point","shape":"M-1,-1L1,1M-1,1L1,-1","filled":false,"color":"#555555","strokeWidth":1.2,"size":100,"opacity":1},"encoding":{"y":{"field":"m","type":"quantitative","title":null}}},
{"data":{"name":"s"},"transform":[{"filter":"datum.p==='P2'"}],"mark":{"type":"point","shape":"M-1,0L1,0M0,-1L0,1","filled":false,"color":"#ff0000","strokeWidth":1.2,"size":100,"opacity":1},"encoding":{"y":{"field":"d","type":"quantitative","title":null}}}
]},
{"width":362,"height":219,
"encoding":{"x":{"field":"x","type":"quantitative","scale":{"domain":[0.5,7.5],"nice":false,"zero":false},"axis":{"values":[0.5,1,1.5,2,2.5,3,3.5,4,4.5,5,5.5,6,6.5,7,7.5],"labels":false,"title":null}}},
"layer":[
{"data":{"name":"t"},"transform":[{"filter":"datum.p==='P3'"}],"mark":{"type":"tick","orient":"horizontal","size":16,"thickness":2,"color":"black","opacity":1},"encoding":{"y":{"field":"v","type":"quantitative","scale":{"domain":[0.75,1],"nice":false,"zero":false},"axis":{"orient":"right","values":[0.75,0.8,0.85,0.9,0.95,1],"labelExpr":"round(datum.value*100) % 10 === 0 ? format(datum.value, '.1f') : ''","labelOverlap":false,"labelFontSize":27,"labelPadding":1,"title":null}}}},
{"data":{"name":"s"},"transform":[{"filter":"datum.p==='P3'"}],"mark":{"type":"line","color":"black","strokeWidth":2},"encoding":{"y":{"field":"m","type":"quantitative","title":null}}},
{"data":{"name":"s"},"transform":[{"filter":"datum.p==='P3'"}],"mark":{"type":"line","color":"#ff2a00","strokeWidth":2.5,"strokeDash":[9,7]},"encoding":{"y":{"field":"d","type":"quantitative","title":null}}},
{"data":{"name":"s"},"transform":[{"filter":"datum.p==='P3'"}],"mark":{"type":"point","shape":"M-1,-1L1,1M-1,1L1,-1","filled":false,"color":"#555555","strokeWidth":1.2,"size":100,"opacity":1},"encoding":{"y":{"field":"m","type":"quantitative","title":null}}},
{"data":{"name":"s"},"transform":[{"filter":"datum.p==='P3'"}],"mark":{"type":"point","shape":"M-1,0L1,0M0,-1L0,1","filled":false,"color":"#ff0000","strokeWidth":1.2,"size":100,"opacity":1},"encoding":{"y":{"field":"d","type":"quantitative","title":null}}}
]},
{"width":362,"height":219,
"encoding":{"x":{"field":"x","type":"quantitative","scale":{"domain":[0.5,7.5],"nice":false,"zero":false},"axis":{"values":[0.5,1,1.5,2,2.5,3,3.5,4,4.5,5,5.5,6,6.5,7,7.5],"labelExpr":"datum.value % 1 === 0 ? format(datum.value, 'd') : ''","labelOverlap":false,"labelPadding":4,"title":null}}},
"layer":[
{"data":{"name":"t"},"transform":[{"filter":"datum.p==='P4'"}],"mark":{"type":"tick","orient":"horizontal","size":16,"thickness":2,"color":"black","opacity":1},"encoding":{"y":{"field":"v","type":"quantitative","scale":{"domain":[0.75,1],"nice":false,"zero":false},"axis":{"orient":"right","values":[0.75,0.8,0.85,0.9,0.95,1],"labelExpr":"round(datum.value*100) % 10 === 0 ? format(datum.value, '.1f') : ''","labelOverlap":false,"labelFontSize":27,"labelPadding":1,"title":null}}}},
{"data":{"name":"s"},"transform":[{"filter":"datum.p==='P4'"}],"mark":{"type":"line","color":"black","strokeWidth":2},"encoding":{"y":{"field":"m","type":"quantitative","title":null}}},
{"data":{"name":"s"},"transform":[{"filter":"datum.p==='P4'"}],"mark":{"type":"line","color":"#ff2a00","strokeWidth":2.5,"strokeDash":[9,7]},"encoding":{"y":{"field":"d","type":"quantitative","title":null}}},
{"data":{"name":"s"},"transform":[{"filter":"datum.p==='P4'"}],"mark":{"type":"point","shape":"M-1,-1L1,1M-1,1L1,-1","filled":false,"color":"#555555","strokeWidth":1.2,"size":100,"opacity":1},"encoding":{"y":{"field":"m","type":"quantitative","title":null}}},
{"data":{"name":"s"},"transform":[{"filter":"datum.p==='P4'"}],"mark":{"type":"point","shape":"M-1,0L1,0M0,-1L0,1","filled":false,"color":"#ff0000","strokeWidth":1.2,"size":100,"opacity":1},"encoding":{"y":{"field":"d","type":"quantitative","title":null}}}
]}
],"spacing":0,"bounds":"flush","resolve":{"scale":{"color":"independent"},"legend":{"color":"independent"}}}
],
"spacing":50,
"resolve":{"scale":{"color":"independent"},"legend":{"color":"independent"}}
}
